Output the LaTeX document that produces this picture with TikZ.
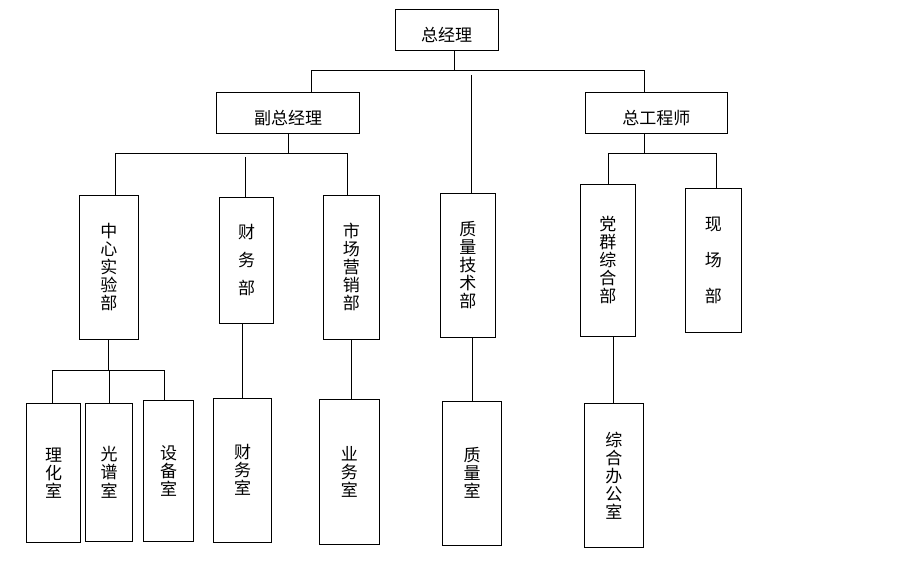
\documentclass[tikz,border=0pt]{standalone}
\usepackage{fontspec}
\usepackage{tikz}
\newfontfamily\cjk{Noto Sans CJK SC}

\begin{document}
\begin{tikzpicture}[x=1pt, y=-1pt, line width=1pt,
  box/.style={rectangle, draw, inner sep=0pt, align=center, font=\cjk\fontsize{17}{18}\selectfont},
  jefe/.style={box, minimum height=41pt, text height=24pt, text depth=1pt}]
  \useasboundingbox (0,0) rectangle (897,561);

  % Nodos
  \node[jefe, minimum width=103pt] (zjl) at (446.5,30) {总经理};      % Nodo superior
  \node[jefe, minimum width=143pt] (fzjl) at (288,112.8) {副总经理};  % Izquierda
  \node[jefe, minimum width=142pt] (zgcs) at (656.3,112.8) {总工程师}; % Derecha

  \node[box, minimum width=59pt, minimum height=144pt] (zxsy) at (108.8,267.3) {中\\心\\实\\验\\部};
  \node[box, minimum width=54pt, minimum height=126pt] (cwb) at (246.5,260.5) {财\\[10pt]务\\[10pt]部};
  \node[box, minimum width=56pt, minimum height=144pt] (scyx) at (351.3,267.3) {市\\场\\营\\销\\部};
  \node[box, minimum width=55pt, minimum height=144pt] (zljs) at (467.8,265.3) {质\\量\\技\\术\\部};
  \node[box, minimum width=55pt, minimum height=152pt] (dqzh) at (607.8,260.3) {党\\群\\综\\合\\部};
  \node[box, minimum width=56pt, minimum height=144pt] (xcb) at (713.3,260.3) {现\\[18pt]场\\[18pt]部};

  \node[box, minimum width=54pt, minimum height=139pt] (lhs) at (53.5,472.8) {理\\化\\室};
  \node[box, minimum width=47pt, minimum height=138pt] (gps) at (109,472.3) {光\\谱\\室};
  \node[box, minimum width=50pt, minimum height=141pt] (sbs) at (168.5,470.8) {设\\备\\室};
  \node[box, minimum width=58pt, minimum height=144pt] (cws) at (242.5,470.3) {财\\务\\室};
  \node[box, minimum width=60pt, minimum height=145pt] (yws) at (349.3,471.8) {业\\务\\室};
  \node[box, minimum width=59pt, minimum height=144pt] (zls) at (472,473.3) {质\\量\\室};
  \node[box, minimum width=59pt, minimum height=144pt] (zhbgs) at (613.8,475.3) {综\\合\\办\\公\\室};

  % Puntos de union
  \coordinate (a0) at (454,71);
  \coordinate (a1) at (311,71);
  \coordinate (a2) at (644,71);
  \coordinate (a3) at (471,75);
  \coordinate (b0) at (288,154);
  \coordinate (b1) at (115,154);
  \coordinate (b2) at (347,154);
  \coordinate (b3) at (245,157);
  \coordinate (c0) at (644,153.7);
  \coordinate (c1) at (608.7,153.7);
  \coordinate (c2) at (716.3,153.7);
  \coordinate (d0) at (108,370.5);
  \coordinate (d1) at (52,370.5);
  \coordinate (d2) at (164.3,370.5);

  % Aristas
  \draw (zjl.south -| a0) -- (a0);
  \draw (fzjl.north -| a1) |- (a2) -- (zgcs.north -| a2);
  \draw (a3) -- (zljs.north -| a3);

  \draw (fzjl.south) -- (b0);
  \draw (zxsy.north -| b1) |- (b2) -- (scyx.north -| b2);
  \draw (b3) -- (cwb.north -| b3);

  \draw (zgcs.south -| c0) -- (c0);
  \draw (dqzh.north -| c1) |- (c2) -- (xcb.north -| c2);

  \draw (zxsy.south -| d0) -- (d0);
  \draw (lhs.north -| d1) |- (d2) -- (sbs.north -| d2);
  \draw (gps.north) -- (gps.north |- d0);

  \draw (cws.north) -- (cws.north |- cwb.south);
  \draw (scyx.south) -- (scyx.south |- yws.north);
  \draw (zls.north) -- (zls.north |- zljs.south);
  \draw (zhbgs.north) -- (zhbgs.north |- dqzh.south);
\end{tikzpicture}
\end{document}
